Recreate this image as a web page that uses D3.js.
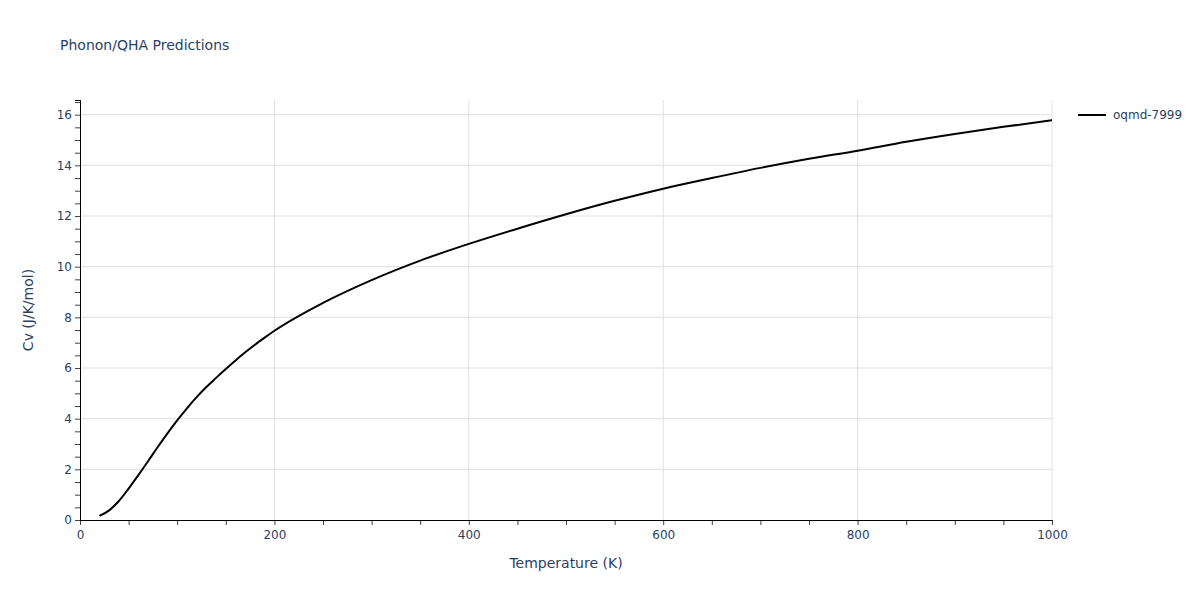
<!DOCTYPE html>
<html>
<head>
<meta charset="utf-8">
<script src="https://cdn.jsdelivr.net/npm/d3@7"></script>
<style>
  body { margin: 0; background: #fff; }
  text { font-family: 'DejaVu Sans', verdana, sans-serif; }
</style>
</head>
<body>
<div id="chart"></div>
<script>
// temperature (K) and heat capacity
let temps = [20, 30, 40, 50, 60, 70, 80, 90, 100, 110, 120, 130, 140, 150, 160, 170, 180, 190, 200, 250, 300, 350, 400, 450, 500, 550, 600, 650, 700, 750, 800, 850, 900, 950, 1000]
let cv = [0.16, 0.38, 0.75, 1.24, 1.77, 2.32, 2.88, 3.42, 3.93, 4.41, 4.85, 5.25, 5.61, 5.96, 6.3, 6.62, 6.92, 7.2, 7.47, 8.57, 9.47, 10.24, 10.9, 11.5, 12.07, 12.6, 13.08, 13.5, 13.9, 14.26, 14.58, 14.93, 15.24, 15.52, 15.78]
let seriesName = 'oqmd-7999'
let xTicks = [0, 200, 400, 600, 800, 1000]
let yTicks = [0, 2, 4, 6, 8, 10, 12, 14, 16]

let margin = { top: 100, left: 80, right: 148, bottom: 80 }
let width = 1200 - margin.left - margin.right
let height = 600 - margin.top - margin.bottom
let textColor = '#2a3f5f'
let font = "'DejaVu Sans', verdana, sans-serif"

let svg = d3.select('#chart')
  .append('svg')
  .attr('width', 1200)
  .attr('height', 600)

let g = svg.append('g')
  .attr('transform', 'translate(' + margin.left + ',' + margin.top + ')')

let x = d3.scaleLinear().domain([0, 1000]).range([0, width])
let y = d3.scaleLinear().domain([0, 16.58]).range([height, 0])

// grid
g.append('g')
  .selectAll('line')
  .data(yTicks.filter(d => d > 0))
  .enter().append('line')
  .attr('x1', 0).attr('x2', width)
  .attr('y1', d => y(d)).attr('y2', d => y(d))
  .attr('stroke', '#e1e1e1')
g.append('g')
  .selectAll('line')
  .data(xTicks.filter(d => d > 0))
  .enter().append('line')
  .attr('y1', 0).attr('y2', height)
  .attr('x1', d => x(d)).attr('x2', d => x(d))
  .attr('stroke', '#e1e1e1')

// minor ticks + labels
let xAxis = g.append('g')
  .attr('transform', 'translate(0,' + height + ')')
  .call(d3.axisBottom(x).tickValues(d3.range(0, 1001, 50)).tickSize(5).tickFormat(''))
xAxis.append('g')
  .call(d3.axisBottom(x).tickValues(xTicks).tickSize(0).tickPadding(10).tickFormat(d3.format('d')))
xAxis.selectAll('path').attr('stroke', '#000')
xAxis.selectAll('.tick line').attr('stroke', '#444')
xAxis.selectAll('text').attr('fill', textColor).style('font-size', '12px')
  .style('font-family', font)

let yAxis = g.append('g')
  .call(d3.axisLeft(y).tickValues(d3.range(0, 16.51, 0.5)).tickSize(5).tickFormat(''))
yAxis.append('g')
  .call(d3.axisLeft(y).tickValues(yTicks).tickSize(0).tickPadding(8))
yAxis.selectAll('path').attr('stroke', '#000')
yAxis.selectAll('.tick line').attr('stroke', '#444')
yAxis.selectAll('text').attr('fill', textColor).style('font-size', '12px')
  .style('font-family', font)

// series
let line = d3.line()
  .x((d, i) => x(temps[i]))
  .y(d => y(d))
  .curve(d3.curveMonotoneX)

g.append('path')
  .datum(cv)
  .attr('d', line)
  .attr('fill', 'none')
  .attr('stroke', '#000')
  .attr('stroke-width', 2)

// titles
svg.append('text')
  .attr('x', 60).attr('y', 50)
  .attr('fill', textColor)
  .style('font-size', '14px')
  .text('Phonon/QHA Predictions')

svg.append('text')
  .attr('x', margin.left + width / 2).attr('y', 568)
  .attr('text-anchor', 'middle')
  .attr('fill', textColor)
  .style('font-size', '14px')
  .text('Temperature (K)')

svg.append('text')
  .attr('transform', 'translate(33,' + (margin.top + height / 2) + ') rotate(-90)')
  .attr('text-anchor', 'middle')
  .attr('fill', textColor)
  .style('font-size', '14px')
  .text('Cv (J/K/mol)')

// legend
let legend = svg.append('g').attr('transform', 'translate(1078,115)')
legend.append('line')
  .attr('x1', 0).attr('x2', 28)
  .attr('stroke', '#000').attr('stroke-width', 2)
legend.append('text')
  .attr('x', 35).attr('y', 4)
  .attr('fill', textColor)
  .style('font-size', '12px')
  .text(seriesName)
</script>
</body>
</html>
